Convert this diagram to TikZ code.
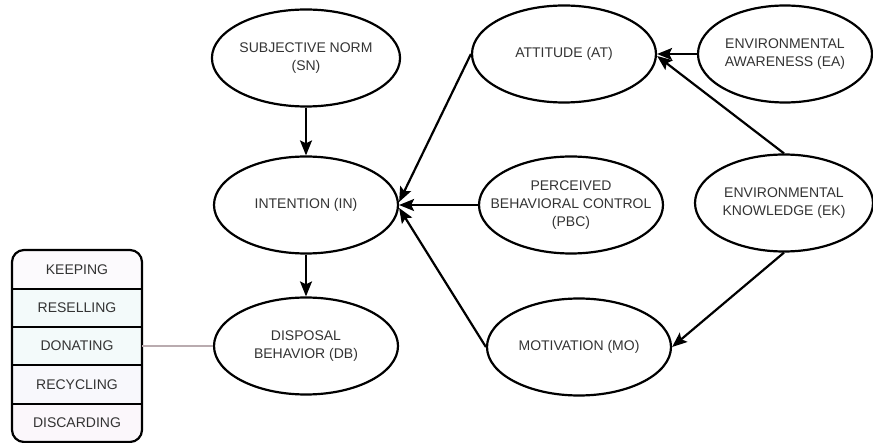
\documentclass[tikz,border=0pt]{standalone}
\usepackage{fontspec}
\setmainfont{Liberation Sans}
\usetikzlibrary{shapes.geometric,arrows.meta}
\definecolor{txt}{HTML}{333333}
\definecolor{rowA}{HTML}{FCFAFD}
\definecolor{rowB}{HTML}{F3FAFA}
\definecolor{rowC}{HTML}{F8F8FC}
\definecolor{rowD}{HTML}{FBF7FB}
\definecolor{linkgray}{HTML}{B9ABAF}
\begin{document}
\begin{tikzpicture}[x=1pt,y=-1pt,
  construct/.style={ellipse,draw,line width=2.2pt,minimum width=184pt,minimum height=97pt,inner sep=0pt,align=center,text=txt,font=\fontsize{14}{18}\selectfont},
  link/.style={line width=2.2pt,-{Stealth[length=15pt,width=12pt,inset=3pt]}},
  row/.style={rectangle,minimum width=130pt,minimum height=38.4pt,inner sep=0pt,text=txt,font=\fontsize{14}{18}\selectfont},
  sep/.style={line width=2pt}]
\useasboundingbox (0,0) rectangle (873,443);
\node[construct] (SN) at (306,58) {SUBJECTIVE NORM\\(SN)};
\node[construct] (IN) at (306,205) {INTENTION (IN)};
\node[construct] (DB) at (306,346) {DISPOSAL\\BEHAVIOR (DB)};
\node[construct] (AT) at (564,54) {ATTITUDE (AT)};
\node[construct,inner xsep=-20pt] (PBC) at (571,205) {PERCEIVED\\BEHAVIORAL CONTROL\\(PBC)};
\node[construct] (MO) at (579,347) {MOTIVATION (MO)};
\node[construct,minimum width=174pt] (EA) at (785,54) {ENVIRONMENTAL\\AWARENESS (EA)};
\node[construct,minimum width=178pt] (EK) at (784,203) {ENVIRONMENTAL\\KNOWLEDGE (EK)};
\begin{scope}
\clip[rounded corners=12pt] (12,250) rectangle (142,442);
\node[row,fill=rowA] (keep) at (77,269.2) {KEEPING};
\node[row,fill=rowB] (resell) at (77,307.6) {RESELLING};
\node[row,fill=rowB] (donate) at (77,346) {DONATING};
\node[row,fill=rowC] (recycle) at (77,384.4) {RECYCLING};
\node[row,fill=rowD] (discard) at (77,422.8) {DISCARDING};
\end{scope}
\draw[sep] (keep.south west) -- (keep.south east);
\draw[sep] (resell.south west) -- (resell.south east);
\draw[sep] (donate.south west) -- (donate.south east);
\draw[sep] (recycle.south west) -- (recycle.south east);
\draw[line width=2.2pt,rounded corners=12pt] (12,250) rectangle (142,442);
\draw[linkgray,line width=1.8pt] (donate.east) -- (DB.west);
\draw[link] (SN.south) -- (IN.north);
\draw[link] (IN.south) -- (DB.north);
\draw[link] (AT.west) -- ([yshift=3pt]IN.east);
\draw[link] (PBC.west) -- (IN.east);
\draw[link] (MO.west) -- ([yshift=-3pt]IN.east);
\draw[link] (EA.west) -- (AT.east);
\draw[link] (EK.north) -- ([yshift=-2pt]AT.east);
\draw[link] (EK.south) -- (MO.east);
\end{tikzpicture}
\end{document}
